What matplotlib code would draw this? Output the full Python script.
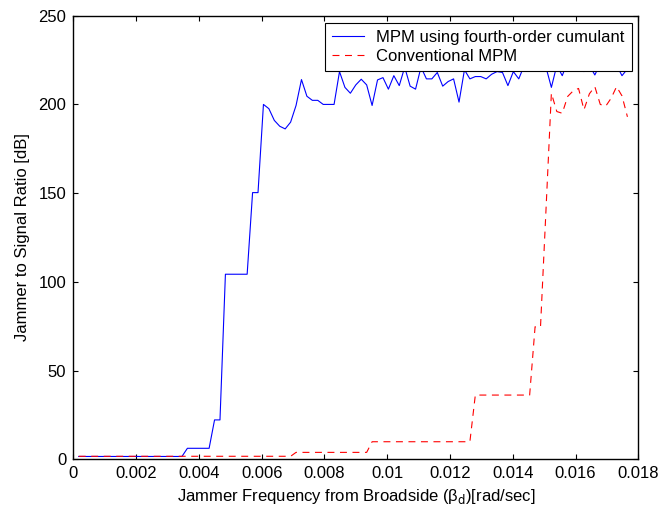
import numpy as np
import matplotlib
matplotlib.use("Agg")
import matplotlib.pyplot as plt

# sample grid of jammer frequency [rad/sec]
n_points = 102
freq_step = 0.018 / 104
freq = np.arange(1, n_points + 1) * freq_step

# J/S ratio [dB], MPM using fourth-order cumulant
jsr_cumulant = [
    1.6, 1.6, 1.6, 1.6, 1.6, 1.6, 1.6, 1.6, 1.6, 1.6,
    1.6, 1.6, 1.6, 1.6, 1.6, 1.6, 1.6, 1.6, 1.6, 1.6,
    6.2, 6.2, 6.2, 6.2, 6.2, 22.2, 22.2, 104.3, 104.3, 104.3,
    104.3, 104.3, 150.3, 150.3, 200, 197.6, 191, 187.7, 186.2, 190,
    199.4, 214, 204.6, 202.3, 202.3, 200, 200, 200, 218.5, 209.6,
    206.3, 211, 214.2, 211, 199.4, 213.8, 215.1, 208.6, 216.2, 210.6,
    221, 210.3, 208.6, 221, 214.4, 214.4, 218, 210.3, 212.9, 214.4,
    201.3, 219.5, 214.4, 215.7, 215.7, 214.4, 217, 218.5, 218, 210.6,
    218.5, 214.4, 222, 219, 222, 223, 221, 209.6, 222, 216.2,
    224, 222, 223, 218.5, 222, 216.6, 223, 222, 224, 222,
    216.2, 220,
]

# J/S ratio [dB], conventional MPM
jsr_conventional = [
    1.7, 1.7, 1.7, 1.7, 1.7, 1.7, 1.7, 1.7, 1.7, 1.7,
    1.7, 1.7, 1.7, 1.7, 1.7, 1.7, 1.7, 1.7, 1.7, 1.7,
    1.7, 1.7, 1.7, 1.7, 1.7, 1.7, 1.7, 1.7, 1.7, 1.7,
    1.7, 1.7, 1.7, 1.7, 1.7, 1.7, 1.7, 1.7, 1.7, 1.7,
    3.9, 3.9, 3.9, 3.9, 3.9, 3.9, 3.9, 3.9, 3.9, 3.9,
    3.9, 3.9, 3.9, 3.9, 9.9, 9.9, 9.9, 9.9, 9.9, 9.9,
    9.9, 9.9, 9.9, 9.9, 9.9, 9.9, 9.9, 9.9, 9.9, 9.9,
    9.9, 9.9, 9.9, 36.2, 36.2, 36.2, 36.2, 36.2, 36.2, 36.2,
    36.2, 36.2, 36.2, 36.2, 74.7, 74.7, 140, 206.3, 196, 195,
    204.5, 207.6, 209, 197, 206, 210, 200, 199, 203.5, 210,
    204.8, 193,
]

xticks = [0, 0.002, 0.004, 0.006, 0.008, 0.01, 0.012, 0.014, 0.016, 0.018]
xtick_labels = ["0", "0.002", "0.004", "0.006", "0.008", "0.01",
                "0.012", "0.014", "0.016", "0.018"]
yticks = [0, 50, 100, 150, 200, 250]

plt.rcParams["font.family"] = ["Liberation Sans", "DejaVu Sans"]
plt.rcParams["font.size"] = 12
plt.rcParams["lines.scale_dashes"] = False

fig = plt.figure(figsize=(6.61, 5.14), dpi=100)
ax = fig.add_axes([73.3 / 661, 1 - 459.3 / 514, 565 / 661, 443.6 / 514])

ax.plot(freq, jsr_cumulant, color="#0000ff", linewidth=0.8,
        label="MPM using fourth-order cumulant")
ax.plot(freq, jsr_conventional, color="#ff0000", linewidth=0.8,
        dashes=(5, 4), label="Conventional MPM")

ax.set_xlim(0, 0.018)
ax.set_ylim(0, 250)
ax.set_xticks(xticks)
ax.set_xticklabels(xtick_labels)
ax.set_yticks(yticks)
ax.tick_params(direction="in", length=3.8, width=0.8, top=True, right=True,
               pad=5)
for spine in ax.spines.values():
    spine.set_linewidth(1.0)

ax.set_xlabel("Jammer Frequency from Broadside (β$_{\\rm d}$)[rad/sec]",
              labelpad=4)
ax.set_ylabel("Jammer to Signal Ratio [dB]", labelpad=6)

leg = ax.legend(loc="upper right", bbox_to_anchor=(0.9883, 0.9842),
                borderaxespad=0, fancybox=False, framealpha=1,
                edgecolor="black", handlelength=1.9, handletextpad=0.7,
                labelspacing=0.2, borderpad=0.45)
leg.get_frame().set_linewidth(0.8)

fig.savefig("out.png", dpi=100)
